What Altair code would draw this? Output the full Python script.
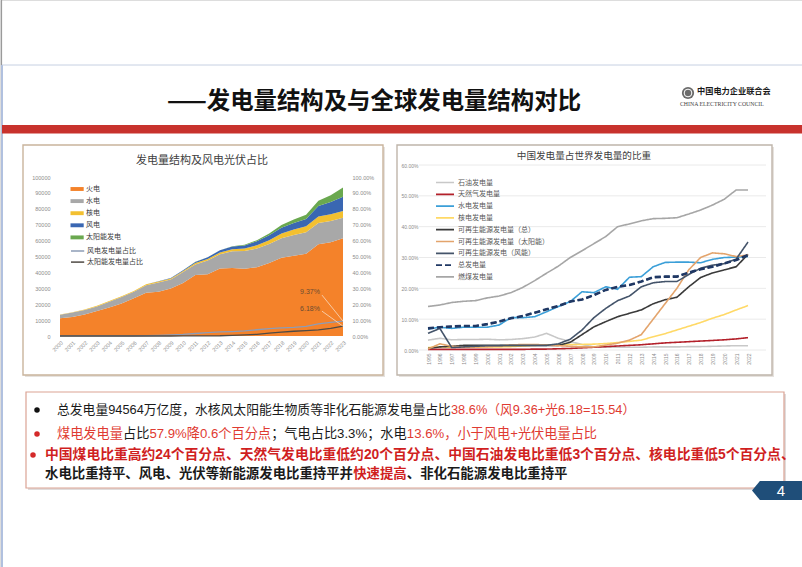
import altair as alt
import pandas as pd

W, H = 802, 567
CJK = "Noto Sans CJK SC"
MIX = "Liberation Sans, Noto Sans CJK SC"

# ---------------- left chart: generation structure (100 GWh) ----------------
years_left = list(range(2000, 2024))
thermal = [11100, 12000, 13500, 15800, 18000, 20500, 23700, 27200, 27900, 29800, 33300, 38300,
           38900, 42500, 42700, 42300, 43300, 45900, 49200, 50500, 51700, 57700, 58900, 61500]
hydro = [2200, 2800, 2900, 2800, 3500, 4000, 4100, 4700, 5700, 5700, 6900, 6700,
         8600, 8900, 10600, 11100, 11700, 11900, 12300, 13000, 13600, 13400, 13500, 12800]
nuclear = [170, 180, 270, 430, 500, 530, 550, 620, 690, 700, 750, 870,
           980, 1120, 1330, 1710, 2130, 2480, 2950, 3490, 3660, 4080, 4180, 4350]
wind = [10, 10, 10, 10, 10, 20, 30, 60, 130, 280, 450, 740,
        1030, 1380, 1600, 1860, 2410, 3050, 3660, 4060, 4670, 6560, 7630, 8860]
solar = [0, 0, 0, 0, 0, 0, 0, 0, 0, 0, 0, 10,
         40, 90, 240, 400, 670, 1180, 1780, 2240, 2610, 3270, 4270, 5840]
wind_share = [0.04, 0.05, 0.06, 0.07, 0.06, 0.06, 0.10, 0.18, 0.38, 0.74, 1.06, 1.57,
              2.07, 2.55, 2.81, 3.19, 3.93, 4.61, 5.10, 5.41, 6.00, 7.68, 8.62, 9.37]
solar_share = [0, 0, 0, 0, 0, 0, 0, 0, 0, 0, 0.02, 0.05,
               0.08, 0.15, 0.41, 0.68, 1.08, 1.78, 2.48, 2.99, 3.36, 3.83, 4.83, 6.18]
area_series = ["火电", "水电", "核电", "风电", "太阳能发电"]
area_colors = ["#f4822a", "#a8a8a8", "#f3c030", "#3a67b2", "#6aa84f"]
share_series = ["风电发电量占比", "太阳能发电量占比"]
share_colors = ["#8d9cb6", "#4f4a44"]
left_count_ticks = list(range(0, 100001, 10000))
left_pct_ticks = list(range(0, 101, 10))

# ---------------- right chart: China share of world generation (%) ----------------
years_right = list(range(1995, 2023))
oil_w = [3.2, 3.8, 3.3, 3.4, 3.4, 3.5, 3.3, 3.4, 3.7, 4.2, 5.4, 3.8, 2.7, 1.8,
         1.0, 0.9, 0.9, 0.9, 0.9, 1.0, 1.0, 1.0, 1.1, 1.1, 1.2, 1.3, 1.4, 1.4]
gas_w = [0.2, 0.2, 0.2, 0.2, 0.2, 0.2, 0.2, 0.2, 0.2, 0.3, 0.3, 0.4, 0.5, 0.7,
         0.9, 1.1, 1.3, 1.5, 1.7, 2.0, 2.3, 2.5, 2.7, 2.9, 3.1, 3.3, 3.6, 4.0]
hydro_w = [6.8, 7.4, 7.0, 7.4, 7.4, 7.4, 8.1, 10.5, 10.5, 10.8, 12.4, 14.1, 15.7, 18.9,
           18.6, 20.5, 19.7, 23.6, 23.8, 27.0, 28.4, 28.5, 28.5, 28.3, 29.4, 30.0, 30.1, 30.3]
nuclear_w = [0.8, 1.0, 0.9, 0.9, 0.9, 1.0, 1.0, 1.1, 1.3, 1.5, 1.6, 1.7, 1.8, 1.8,
             1.9, 2.1, 2.4, 2.8, 3.2, 4.3, 5.3, 6.5, 7.7, 8.9, 10.3, 11.5, 13.0, 14.4]
re_total_w = [0.5, 1.0, 1.2, 1.5, 1.5, 1.5, 1.5, 1.5, 1.5, 1.5, 1.5, 1.5, 2.5, 5.0,
              7.5, 9.2, 10.8, 11.9, 13.0, 15.0, 16.3, 17.1, 20.5, 23.5, 25.0, 26.0, 27.0, 31.0]
solar_w = [0.3, 2.0, 1.2, 1.0, 1.0, 1.1, 1.3, 1.6, 1.8, 1.8, 1.6, 1.4, 1.2, 1.0,
           1.0, 1.6, 2.2, 3.2, 5.0, 10.0, 15.0, 20.0, 26.0, 30.0, 31.5, 31.2, 30.3, 30.8]
wind_w = [5.4, 7.0, 0.8, 1.0, 1.2, 1.4, 1.4, 1.5, 1.5, 1.5, 1.5, 2.0, 3.5, 6.5,
          10.5, 13.5, 16.0, 17.5, 20.5, 21.8, 22.2, 22.2, 24.5, 26.5, 27.5, 28.0, 29.5, 35.0]
total_w = [7.0, 7.4, 7.6, 7.8, 7.8, 8.4, 9.2, 10.3, 11.0, 12.1, 13.2, 14.3, 15.7, 16.4,
           17.8, 19.5, 20.5, 21.1, 22.2, 23.6, 23.8, 23.8, 25.1, 26.2, 27.0, 28.1, 29.2, 30.8]
coal_w = [14.1, 14.6, 15.4, 15.8, 16.0, 16.9, 17.5, 18.6, 20.3, 22.5, 24.9, 27.2, 30.0, 32.2,
          34.5, 36.8, 40.0, 40.9, 41.9, 42.6, 42.7, 42.9, 44.1, 45.4, 47.0, 48.9, 51.9, 51.9]
right_series = ["石油发电量", "天然气发电量", "水电发电量", "核电发电量", "可再生能源发电量（总）",
                "可再生能源发电量（太阳能）", "可再生能源发电（风能）", "总发电量", "燃煤发电量"]
right_values = [oil_w, gas_w, hydro_w, nuclear_w, re_total_w, solar_w, wind_w, total_w, coal_w]
right_colors = ["#c8c8c8", "#b3202a", "#3b9fd8", "#ffd966", "#3a3a3a",
                "#e3a46c", "#44546a", "#203864", "#a6a6a6"]
right_dashes = [[1, 0]] * 7 + [[6, 3]] + [[1, 0]]
right_ticks = [0, 10, 20, 30, 40, 50, 60]

# ---------------- geometry (pixels on the slide) ----------------
LX0, LX1, LY0, LY1 = 60, 343, 336, 177
RX0, RX1, RY0, RY1 = 428, 748, 350, 165

one = pd.DataFrame({"k": [0]})


def rect(x, x2, y, y2, fill, stroke=None, sw=1.0):
    kw = dict(fill=fill)
    if stroke:
        kw.update(stroke=stroke, strokeWidth=sw)
    else:
        kw.update(strokeWidth=0)
    return alt.Chart(one).mark_rect(**kw).encode(
        x=alt.value(x), x2=alt.value(x2), y=alt.value(y), y2=alt.value(y2))


def rule(x, x2, y, y2, color, sw=1.0):
    return alt.Chart(one).mark_rule(color=color, strokeWidth=sw).encode(
        x=alt.value(x), x2=alt.value(x2), y=alt.value(y), y2=alt.value(y2))


def txt(s, x, y, size, color="#000000", weight="normal", align="left", font=CJK):
    return alt.Chart(one).mark_text(text=s, fontSize=size, color=color, fontWeight=weight,
                                    align=align, baseline="middle", font=font).encode(
        x=alt.value(x), y=alt.value(y))


LATW = {".": 0.278, "%": 0.889, "+": 0.584, "=": 0.584, " ": 0.278}


def tw(s, size):
    return sum((LATW.get(c, 0.556) if ord(c) < 128 else 1.0) * size for c in s)


AX = dict(labelColor="#8c8c8c", labelFont="Liberation Sans", title=None,
          domain=False, ticks=False, grid=False, zindex=2)

layers = []

# ---------------- slide decoration ----------------
layers.append(rule(1.5, 1.5, 0, 65, "#9a9a9a", 1.2))
layers.append(rule(2, 2, 65, 567, "#7d97c9", 1.2))
layers.append(rule(2, 802, 65, 65, "#c6d0e2", 1))
layers.append(txt("——发电量结构及与全球发电量结构对比", 374, 102, 23.4, "#111111", "bold", "center"))
layers.append(alt.Chart(one).mark_point(shape="circle", filled=True, size=150, color="#6a6a6a", opacity=1)
              .encode(x=alt.value(688), y=alt.value(93)))
layers.append(alt.Chart(one).mark_point(shape="circle", filled=False, size=60, color="#ffffff", strokeWidth=1, opacity=1)
              .encode(x=alt.value(688), y=alt.value(93)))
layers.append(txt("中国电力企业联合会", 697, 92, 8.2, "#1a1a1a", "bold"))
layers.append(txt("CHINA ELECTRICITY COUNCIL", 680, 104, 5.8, "#444444", font="Liberation Serif"))
layers.append(rect(2, 802, 125, 133.5, "#c8322d"))

# panels
layers.append(rect(25, 385, 147, 377, "#e6e2de"))
layers.append(rect(23, 383, 145, 375, "#ffffff", "#c9b49c", 1.4))
layers.append(rect(399, 774, 147, 377, "#e6e2de"))
layers.append(rect(397, 772, 145, 375, "#ffffff", "#bfb5aa", 1.4))
layers.append(rect(28, 786, 394, 490, "#e0dcdc"))
layers.append(rect(26, 784, 392, 488, "#ffffff", "#dba394", 1.2))

# page number tag
layers.append(alt.Chart(one).mark_point(shape="M-2.63,0L-1.8,-1L2.63,-1L2.63,1L-1.8,1Z", filled=True,
                                        size=361, color="#1f4e79", opacity=1, strokeWidth=0)
              .encode(x=alt.value(777), y=alt.value(490.5)))
layers.append(txt("4", 781, 491, 15, "#ffffff", "normal", "center", font="Liberation Sans"))

# chart titles
layers.append(txt("发电量结构及风电光伏占比", 202, 161, 11, "#404040", "normal", "center"))
layers.append(txt("中国发电量占世界发电量的比重", 584, 156, 9.6, "#404040", "normal", "center"))

# ---------------- left chart ----------------
xl = alt.Scale(domain=[2000, 2023], range=[LX0, LX1], nice=False, zero=False)
yl = alt.Scale(domain=[0, 100000], range=[LY0, LY1], nice=False)
yp = alt.Scale(domain=[0, 100], range=[LY0, LY1], nice=False)

df_area = pd.DataFrame([
    {"year": y, "series": s, "ord": i, "value": v}
    for i, (s, vals) in enumerate(zip(area_series, [thermal, hydro, nuclear, wind, solar]))
    for y, v in zip(years_left, vals)
])
leg_area = alt.Legend(orient="none", legendX=73.6, legendY=185.5, title=None,
                      symbolType="M-2.2,-0.65H2.2V0.65H-2.2Z", symbolSize=36, symbolStrokeWidth=0,
                      labelFont=CJK, labelFontSize=7, labelColor="#404040", labelOffset=5.4,
                      rowPadding=4.1, padding=0)
layers.append(alt.Chart(df_area).mark_area(opacity=1, interpolate="linear").encode(
    x=alt.X("year:Q", scale=xl, axis=alt.Axis(orient="bottom", offset=-(H - LY0), values=years_left,
                                              format="d", labelAngle=-45, labelFontSize=5.5,
                                              labelOverlap=False, labelPadding=4, **AX)),
    y=alt.Y("value:Q", stack="zero", scale=yl,
            axis=alt.Axis(orient="left", offset=-52, values=left_count_ticks, format="d",
                          labelFontSize=5.5, labelPadding=2, **AX)),
    color=alt.Color("series:N", scale=alt.Scale(domain=area_series, range=area_colors), legend=leg_area),
    order=alt.Order("ord:Q", sort="ascending"),
))

df_share = pd.DataFrame(
    [{"year": y, "series": share_series[0], "share": v} for y, v in zip(years_left, wind_share)] +
    [{"year": y, "series": share_series[1], "share": v} for y, v in zip(years_left, solar_share)]
)
leg_share = alt.Legend(orient="none", legendX=73.6, legendY=247, title=None,
                       symbolType="M-2.2,0H2.2", symbolSize=36, symbolStrokeWidth=1.5,
                       labelFont=CJK, labelFontSize=7, labelColor="#404040", labelOffset=5.4,
                       rowPadding=4.1, padding=0)
layers.append(alt.Chart(df_share).mark_line(strokeWidth=1.3).encode(
    x=alt.X("year:Q", scale=xl, axis=None),
    y=alt.Y("share:Q", scale=yp,
            axis=alt.Axis(orient="right", offset=-(W - 350), values=left_pct_ticks,
                          labelExpr="format(datum.value, '.2f') + '%'",
                          labelFontSize=5.5, labelPadding=2, **AX)),
    color=alt.Color("series:N", scale=alt.Scale(domain=share_series, range=share_colors), legend=leg_share),
))

# end labels (9.37% / 6.18%) with leader lines
last = pd.DataFrame({"year": [years_left[-1]] * 2, "series": share_series,
                     "share": [wind_share[-1], solar_share[-1]]})
last["label"] = last["share"].map(lambda v: f"{v:.2f}%")
for i, (dx2, dy2, dyt) in enumerate([(-21, -26, -29), (-21, -15, -17)]):
    d = last.iloc[[i]]
    layers.append(alt.Chart(d).mark_rule(color="#f6dcc2", strokeWidth=0.8, x2Offset=dx2, y2Offset=dy2).encode(
        x=alt.X("year:Q", scale=xl, axis=None), x2="year:Q",
        y=alt.Y("share:Q", scale=yp, axis=None), y2="share:Q"))
    layers.append(alt.Chart(d).mark_text(fontSize=7, color="#6b4c32", dx=-33, dy=dyt,
                                         font="Liberation Sans").encode(
        x=alt.X("year:Q", scale=xl, axis=None),
        y=alt.Y("share:Q", scale=yp, axis=None),
        text="label:N"))

# ---------------- right chart ----------------
xr = alt.Scale(domain=[years_right[0], years_right[-1]], range=[RX0, RX1], nice=False, zero=False)
yr = alt.Scale(domain=[0, 60], range=[RY0, RY1], nice=False)

layers.append(alt.Chart(pd.DataFrame({"v": right_ticks})).mark_rule(color="#e4e4e4", strokeWidth=0.8).encode(
    y=alt.Y("v:Q", scale=yr, axis=None), x=alt.value(419), x2=alt.value(766)))

df_r = pd.DataFrame([
    {"year": y, "series": s, "value": v}
    for s, vals in zip(right_series, right_values)
    for y, v in zip(years_right, vals)
])
leg_r = alt.Legend(orient="none", legendX=441, legendY=178.5, title=None,
                   symbolType="M-3,0H3", symbolSize=36, symbolStrokeWidth=1.7,
                   labelFont=CJK, labelFontSize=7, labelColor="#595959", labelOffset=9,
                   rowPadding=3.8, padding=0)
layers.append(alt.Chart(df_r).mark_line(strokeWidth=1.6).encode(
    x=alt.X("year:Q", scale=xr, axis=alt.Axis(orient="bottom", offset=-(H - RY0), values=years_right,
                                              format="d", labelAngle=-90, labelFontSize=5,
                                              labelOverlap=False, labelPadding=3, **AX)),
    y=alt.Y("value:Q", scale=yr,
            axis=alt.Axis(orient="left", offset=-420, values=right_ticks,
                          labelExpr="format(datum.value, '.2f') + '%'",
                          labelFontSize=5, labelPadding=2, **AX)),
    color=alt.Color("series:N", scale=alt.Scale(domain=right_series, range=right_colors), legend=leg_r),
    strokeDash=alt.StrokeDash("series:N", scale=alt.Scale(domain=right_series, range=right_dashes),
                              legend=leg_r),
))
layers.append(alt.Chart(df_r[df_r["series"] == "总发电量"]).mark_line(
    strokeWidth=2.6, strokeDash=[6, 3], color="#203864").encode(
    x=alt.X("year:Q", scale=xr, axis=None),
    y=alt.Y("value:Q", scale=yr, axis=None)))

# ---------------- text box ----------------
BLACK, RED1, RED2 = "#1a1a1a", "#df3b32", "#d01f1f"
box_lines = [
    (57, 410, 12.8, "normal", [
        ("总发电量94564万亿度，水核风太阳能生物质等非化石能源发电量占比", BLACK),
        ("38.6%（风9.36+光6.18=15.54）", RED1)]),
    (57, 434, 13.2, "normal", [
        ("煤电发电量", RED1), ("占比", BLACK), ("57.9%降0.6个百分点", RED1),
        ("；气电占比3.3%；水电", BLACK), ("13.6%，小于风电+光伏电量占比", RED1)]),
    (45, 455, 13.8, "bold", [
        ("中国煤电比重高约24个百分点、天然气发电比重低约20个百分点、中国石油发电比重低3个百分点、核电比重低5个百分点、", RED2)]),
    (45, 474, 13.4, "bold", [
        ("水电比重持平、风电、光伏等新能源发电比重持平并", BLACK), ("快速提高", RED2),
        ("、非化石能源发电比重持平", BLACK)]),
]
for x0, y, size, weight, segs in box_lines:
    x = x0
    for s, col in segs:
        layers.append(txt(s, x, y, size, col, weight, "left", MIX))
        x += tw(s, size)
for bx, by, bc in [(37, 410, "#111111"), (37, 434, "#d42a2a"), (33, 455, "#d42a2a")]:
    layers.append(alt.Chart(one).mark_circle(size=30, color=bc, opacity=1).encode(
        x=alt.value(bx), y=alt.value(by)))

chart = alt.layer(*layers).resolve_scale(
    x="independent", y="independent", color="independent", strokeDash="independent"
).properties(
    width=W, height=H, padding=0, autosize=alt.AutoSizeParams(type="none"), background="#ffffff"
).configure_view(stroke=None).configure(font=CJK)

chart.save("out.html", embed_options={"renderer": "svg", "actions": False})
